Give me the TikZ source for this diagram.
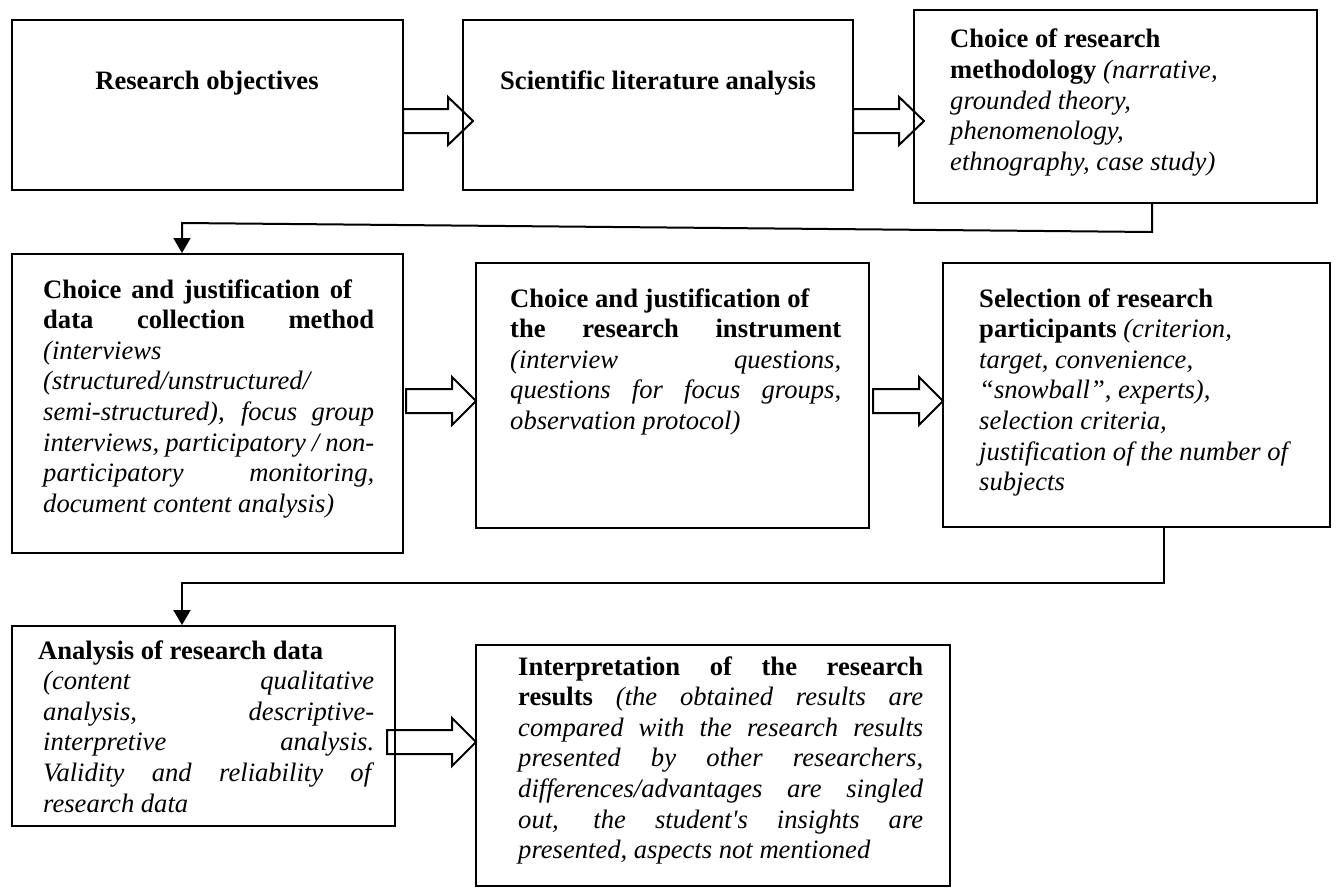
\documentclass[tikz,border=0pt]{standalone}
\usepackage{fontspec}
\setmainfont{Liberation Serif}
\usetikzlibrary{arrows.meta}
\newcommand{\jl}[2]{\leavevmode\hbox to #1pt{#2}}
\newcommand{\bx}[5]{\node[box,minimum width={#4-#2},minimum height={#5-#3}] (#1) at ({(#2+#4)/2},{(#3+#5)/2}) {};}
\newcommand{\blk}[4]{\draw[blkarrow] ({#1},{#4-12}) -- ({#2},{#4-12}) -- ({#2},{#4-24}) -- ({#3},{#4}) -- ({#2},{#4+24}) -- ({#2},{#4+12}) -- ({#1},{#4+12}) -- cycle;}
\newcommand{\sq}{{\addfontfeatures{Ligatures=TeXOff}'}}
\begin{document}
\begin{tikzpicture}[x=1pt,y=-1pt,
  box/.style={draw=black,line width=2pt,inner sep=0pt,rectangle},
  txt/.style={anchor=base west,inner sep=0pt,font=\fontsize{26.6}{30.6}\selectfont},
  conn/.style={draw=black,line width=2pt},
  blkarrow/.style={draw=black,line width=2pt,line join=miter},
  tip/.style={-{Triangle[width=17pt,length=15pt]}}]
\fill[white] (0,0) rectangle (1336,891);
\useasboundingbox (0,0) rectangle (1336,891);
% boxes
\bx{A}{12}{20}{403}{190}
\bx{B}{463}{20}{853}{190}
\bx{C}{914}{10}{1317}{203}
\bx{D}{12}{254}{403}{553}
\bx{E}{476}{263}{869}{528}
\bx{F}{943}{263}{1330}{527}
\bx{G}{12}{626}{395}{826}
\bx{H}{476}{645}{950}{886}
% texts
\node[txt,anchor=base] (At) at (207,89) {\textbf{Research objectives}};
\node[txt,anchor=base] (Bt) at (658,89) {\textbf{Scientific literature analysis}};
\node[txt] (Ct) at (950,48) {\parbox[t]{400pt}{\raggedright
\textbf{Choice of research}\\
\textbf{methodology} \textit{(narrative,}\\
\textit{grounded theory,}\\
\textit{phenomenology,}\\
\textit{ethnography, case study)}}};
\node[txt] (Dt) at (43,298) {\parbox[t]{400pt}{\raggedright
\jl{309}{\textbf{Choice and justification of}}\\
\jl{331}{\textbf{data collection method}}\\
\textit{(interviews}\\
\textit{(structured/unstructured/}\\
\jl{331}{\textit{semi-structured), focus group}}\\
\jl{331}{\textit{interviews, participatory / non-}}\\
\jl{331}{\textit{participatory monitoring,}}\\
\textit{document content analysis)}}};
\node[txt] (Et) at (510,307) {\parbox[t]{400pt}{\raggedright
\textbf{Choice and justification of}\\
\jl{331}{\textbf{the research instrument}}\\
\jl{331}{\textit{(interview questions,}}\\
\jl{331}{\textit{questions for focus groups,}}\\
\textit{observation protocol)}}};
\node[txt] (Ft) at (979,307) {\parbox[t]{400pt}{\raggedright
\textbf{Selection of research}\\
\textbf{participants} \textit{(criterion,}\\
\textit{target, convenience,}\\
\textit{“snowball”, experts),}\\
\textit{selection criteria,}\\
\textit{justification of the number of}\\
\textit{subjects}}};
\node[txt] (Gt) at (43,659) {\parbox[t]{400pt}{\raggedright
\hspace*{-5pt}\textbf{Analysis of research data}\\
\jl{331}{\textit{(content qualitative}}\\
\jl{331}{\textit{analysis, descriptive-}}\\
\jl{331}{\textit{interpretive analysis.}}\\
\jl{331}{\textit{Validity and reliability of}}\\
\textit{research data}}};
\node[txt] (Ht) at (518,675) {\parbox[t]{450pt}{\raggedright
\jl{405}{\textbf{Interpretation of the research}}\\
\jl{405}{\textbf{results} \textit{(the obtained results are}}\\
\jl{405}{\textit{compared with the research results}}\\
\jl{405}{\textit{presented by other researchers,}}\\
\jl{405}{\textit{differences/advantages are singled}}\\
\jl{405}{\textit{out, the student\sq s insights are}}\\
\textit{presented, aspects not mentioned}}};
% block arrows
\blk{403}{448}{473}{121}
\blk{853}{899}{924}{121}
\blk{406}{452}{476}{401}
\blk{873}{919}{943}{401}
\blk{387}{452}{476}{742}
% connectors
\coordinate (c1) at (1152,232);
\coordinate (c2) at (182,223);
\draw[conn,tip] (C.south -| c1) -- (c1) -- (c2) -- (D.north -| c2);
\coordinate (f1) at (1164,583);
\coordinate (f2) at (182,583);
\draw[conn,tip] (F.south -| f1) -- (f1) -- (f2) -- (G.north -| f2);
\end{tikzpicture}
\end{document}
